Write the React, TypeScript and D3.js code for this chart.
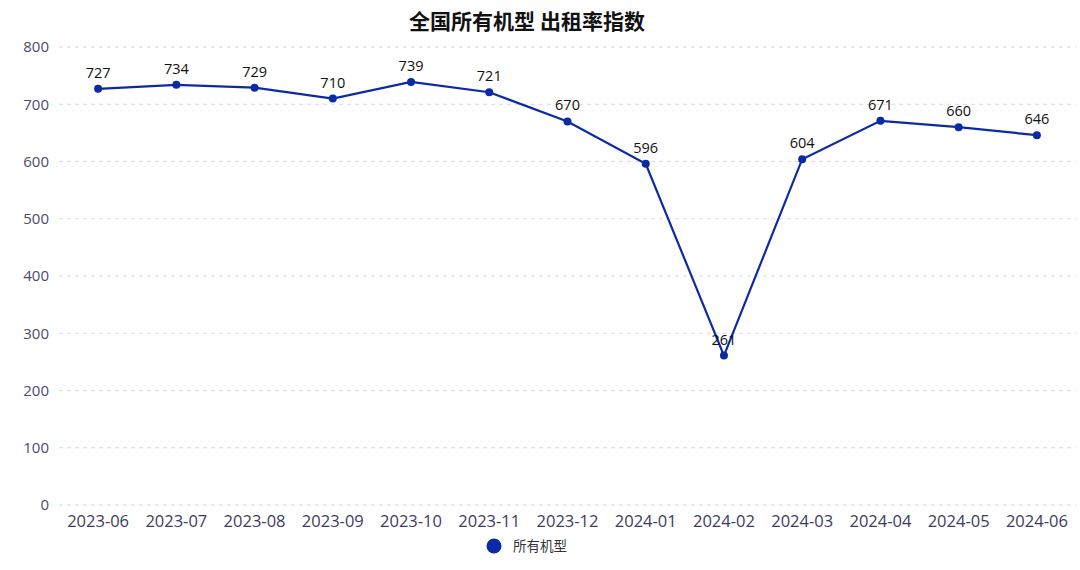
import React from "react";
import * as d3 from "d3";

const categories = ["2023-06","2023-07","2023-08","2023-09","2023-10","2023-11","2023-12","2024-01","2024-02","2024-03","2024-04","2024-05","2024-06"];
const values = [727, 734, 729, 710, 739, 721, 670, 596, 261, 604, 671, 660, 646];
const yTicks = [0, 100, 200, 300, 400, 500, 600, 700, 800];
const seriesName = "所有机型";
const title = "全国所有机型 出租率指数";

const W = 1080, H = 570;
const LINE = "#0b2aa6";

export default function App() {
  const x = d3.scaleBand<string>().domain(categories).range([59, 1076]);
  const y = d3.scaleLinear().domain([0, 800]).range([505, 47]);
  const cx = (c: string) => (x(c) as number) + x.bandwidth() / 2;
  const line = d3.line<number>().x((_, i) => cx(categories[i])).y((v) => y(v));
  const font = "'Open Sans', 'Noto Sans CJK SC', sans-serif";
  const cjk = "'Noto Sans CJK SC', sans-serif";
  return (
    <svg width={W} height={H} style={{ position: "absolute", left: 0, top: 0, background: "#fff" }} fontFamily={font}>
      <text x={527} y={29} textAnchor="middle" fontSize={21} fontWeight="bold" fill="#111" fontFamily={cjk}>{title}</text>
      {yTicks.map((t) => (
        <g key={t}>
          <line x1={59} x2={1076} y1={y(t)} y2={y(t)} stroke="#d8d8de" strokeDasharray="4,4" strokeWidth={1} />
          <text x={49} y={y(t)} dy="0.35em" textAnchor="end" fontSize={15} fill="#4b4b6b">{t}</text>
        </g>
      ))}
      {categories.map((c) => (
        <text key={c} x={cx(c)} y={527} textAnchor="middle" fontSize={16.5} fill="#3c3c5e">{c}</text>
      ))}
      <path d={line(values) || ""} fill="none" stroke={LINE} strokeWidth={2.2} />
      {values.map((v, i) => (
        <g key={i}>
          <circle cx={cx(categories[i])} cy={y(v)} r={4} fill={LINE} />
          <text x={cx(categories[i])} y={y(v) - 11} textAnchor="middle" fontSize={14.5} fill="#111">{v}</text>
        </g>
      ))}
      <circle cx={494} cy={546} r={7.5} fill={LINE} />
      <text x={513} y={546} dy="0.35em" fontSize={13.5} fill="#333" fontFamily={cjk}>{seriesName}</text>
    </svg>
  );
}
